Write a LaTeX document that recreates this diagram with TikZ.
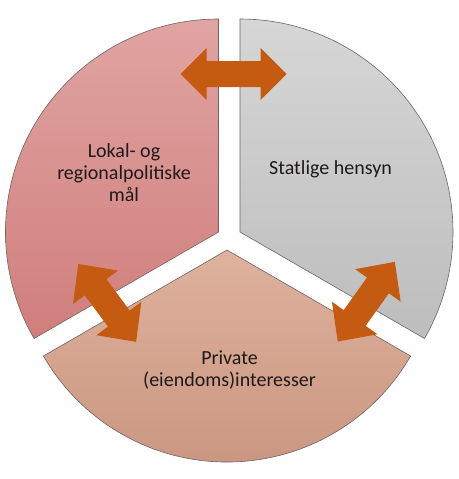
\documentclass[tikz,border=0pt]{standalone}
\usepackage{fontspec}
\setmainfont{Carlito}
\definecolor{redTop}{HTML}{E0A4A2}
\definecolor{redBot}{HTML}{D07E7C}
\definecolor{grayTop}{HTML}{D6D6D6}
\definecolor{grayBot}{HTML}{BDBDBD}
\definecolor{tanTop}{HTML}{DEB29D}
\definecolor{tanBot}{HTML}{C8937E}
\definecolor{arrowOrange}{HTML}{C55A11}
\definecolor{edgeGray}{HTML}{6E6464}
\definecolor{txt}{HTML}{1E1A1A}
\newcommand{\dblblockarrow}[7]{% center x, center y, angle, length, head length, head half width, shaft half width
  \begin{scope}[shift={(#1,#2)},rotate=#3]
    \fill[arrowfill] (-#4/2,0) -- (-#4/2+#5,-#6) -- (-#4/2+#5,-#7) -- (#4/2-#5,-#7) -- (#4/2-#5,-#6)
      -- (#4/2,0) -- (#4/2-#5,#6) -- (#4/2-#5,#7) -- (-#4/2+#5,#7) -- (-#4/2+#5,#6) -- cycle;
  \end{scope}}
\begin{document}
\begin{tikzpicture}[x=1pt,y=-1pt,
  sector/.style={draw=edgeGray,line width=0.6pt,line join=miter},
  arrowfill/.style={fill=arrowOrange},
  lbl/.style={text=txt,align=center,font=\fontsize{20}{22}\selectfont,inner sep=0pt}]
\useasboundingbox (0,0) rectangle (458,479);
\coordinate (cL) at (218.5,232);
\coordinate (cR) at (240,232);
\coordinate (cB) at (227,250);
% sectors
\path[sector,top color=redTop,bottom color=redBot]
  (cL) -- ++(270:213) arc[start angle=270,end angle=150,radius=213] -- cycle;
\path[sector,top color=grayTop,bottom color=grayBot]
  (cR) -- ++(-90:213) arc[start angle=-90,end angle=30,radius=213] -- cycle;
\path[sector,top color=tanTop,bottom color=tanBot]
  (cB) -- ++(30:212) arc[start angle=30,end angle=150,radius=212] -- cycle;
% arrows
\dblblockarrow{233.7}{74}{0}{106}{26}{26}{13}
\dblblockarrow{107.2}{302.9}{-53.4}{97}{29}{28}{13.5}
\dblblockarrow{366.3}{301.7}{54.4}{98}{29}{28}{13.5}
% labels
\node[lbl] (lokal) at (124,173) {Lokal- og\\regionalpolitiske\\mål};
\node[lbl] (stat) at (330.5,169.5) {Statlige hensyn};
\node[lbl] (priv) at (229.5,370) {Private\\(eiendoms)interesser};
\end{tikzpicture}
\end{document}
